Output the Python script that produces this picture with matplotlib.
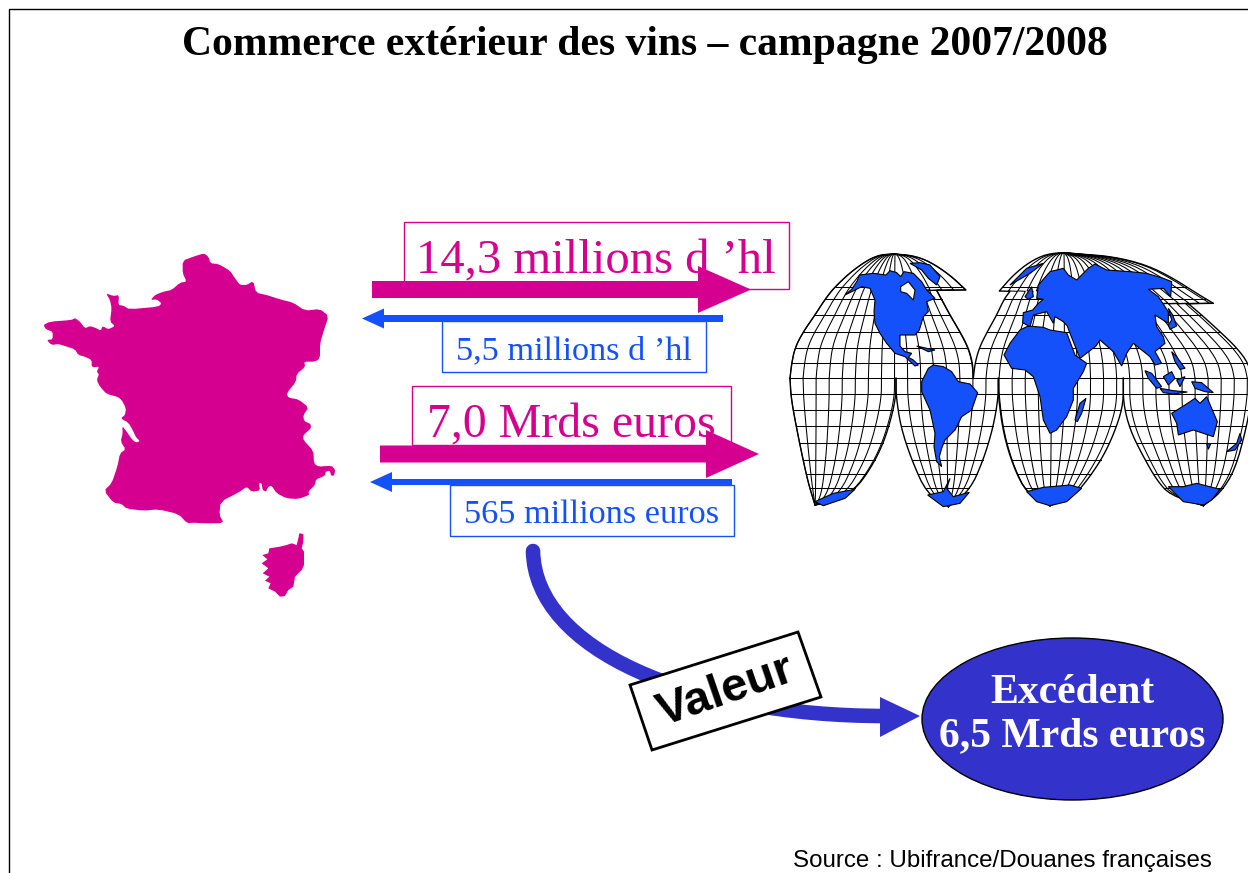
import numpy as np
import matplotlib
matplotlib.use("Agg")
import matplotlib.pyplot as plt
from matplotlib.patches import Polygon, Rectangle, Ellipse, PathPatch
from matplotlib.path import Path

MAGENTA = "#D5008F"
BLUE = "#1551FA"
INDIGO = "#3333CC"

TITLE = "Commerce extérieur des vins – campagne 2007/2008"
SOURCE = "Source : Ubifrance/Douanes françaises"
LABEL_EXPORT_VOL = "14,3 millions d ’hl"
LABEL_IMPORT_VOL = "5,5 millions d ’hl"
LABEL_EXPORT_VAL = "7,0 Mrds euros"
LABEL_IMPORT_VAL = "565 millions euros"
LABEL_BALANCE = "Excédent\n6,5 Mrds euros"
LABEL_VALEUR = "Valeur"

# outlines (zoomed pixels, see to_px)
france = [(458,62),(490,50),(522,40),(535,50),(542,70),(565,72),(600,92),(615,115),(630,135),(650,135),(670,123),
          (678,158),(710,165),(750,178),(790,188),(825,212),(870,207),(896,228),(882,270),(870,310),(870,355),
          (855,365),(822,365),(826,380),(800,402),(798,425),(770,460),(775,473),(805,478),(836,502),(820,525),
          (822,543),(842,552),(843,565),(820,585),(820,600),(850,632),(852,670),(865,680),(905,677),(916,690),
          (912,707),(903,707),(900,692),(887,695),(885,707),(858,718),(855,735),(835,755),(838,765),(805,777),
          (770,775),(740,760),(725,737),(715,740),(708,755),(698,750),(695,730),(687,728),(690,752),(665,755),
          (650,740),(630,755),(572,785),(568,825),(582,850),(520,850),(490,848),(472,850),(445,822),(385,808),
          (340,812),(290,806),(275,792),(250,788),(222,752),(245,730),(262,680),(270,640),(287,628),(272,605),
          (278,580),(277,558),(290,575),(305,597),(318,608),(330,603),(318,592),(308,570),(295,548),(272,535),
          (285,525),(288,505),(275,480),(262,470),(230,462),(210,440),(200,420),(207,403),(200,395),(208,380),
          (185,382),(185,360),(165,350),(145,345),(135,328),(105,318),(85,312),(65,315),(50,300),(68,298),(68,275),
          (48,268),(40,255),(60,245),(125,240),(135,234),(150,245),(165,265),(180,258),(200,265),(212,272),(218,258),
          (235,268),(255,258),(240,245),(245,205),(240,180),(228,160),(250,168),(267,165),(265,195),(280,197),
          (298,208),(385,200),(395,190),(380,178),(362,180),(375,165),(400,155),(425,150),(450,128),(470,125),(458,100)]
corsica = [(808,880),(820,882),(820,905),(815,925),(822,935),(822,975),(815,990),(795,1010),(790,1040),(775,1050),
           (765,1068),(750,1070),(735,1055),(715,1045),(722,1030),(705,1022),(718,1010),(698,1000),(715,985),(695,970),
           (712,958),(697,945),(715,940),(718,925),(750,920),(770,915),(785,910),(800,915),(805,895)]

# lobe edges of the world map as (y, x)
nl1_left = [(42,345),(45,290),(85,225),(140,165),(178,135),(225,105),(275,70),(323,45),(370,35),(415,30)]
nl1_right = [(42,345),(47,400),(65,450),(105,510),(150,558),(151,470),(178,485),(225,510),(275,540),(323,565),(370,578),(415,580)]
nl2_left = [(38,852),(42,800),(65,750),(105,700),(153,658),(154,690),(178,672),(225,650),(275,622),(323,598),(370,585),(415,580)]
nl2_right = [(38,852),(42,900),(50,1000),(75,1100),(115,1180),(160,1250),(190,1300),(191,1225),(225,1265),(275,1320),(323,1370),(370,1405),(415,1415)]
sl1_left = [(415,30),(470,33),(540,45),(640,65),(730,85),(795,105)]
sl1_right = [(415,348),(465,348),(530,335),(610,310),(680,275),(750,225),(785,160),(795,105)]
sl2_left = [(415,348),(465,348),(560,362),(660,395),(760,440),(800,505)]
sl2_right = [(415,655),(470,655),(560,640),(660,610),(750,570),(800,505)]
sl3_left = [(415,655),(470,655),(580,670),(680,700),(760,740),(797,810)]
sl3_right = [(415,1030),(490,1030),(560,1010),(640,975),(710,930),(770,880),(797,810)]
sl4_left = [(415,1030),(490,1030),(570,1050),(650,1090),(720,1130),(765,1170),(797,1270)]
sl4_right = [(415,1415),(470,1415),(560,1400),(690,1365),(760,1320),(797,1270)]

north_rows = [140, 178, 225, 275, 323, 370, 415]
south_rows = [462, 510, 558, 610, 660, 702, 745]

land = [
    [(195,165),(215,148),(232,122),(238,105),(280,100),(318,105),(330,92),(350,98),(362,110),(372,95),(400,100),(425,125),(440,150),(465,175),(440,185),(445,215),(430,230),(418,270),(405,285),(360,285),(360,318),(375,335),(395,340),(385,352),(400,360),(415,375),(405,378),(375,350),(345,340),(320,310),(300,280),(285,250),(282,215),(285,180),(270,145),(245,140),(225,150)],
    [(390,70),(420,68),(450,75),(480,110),(470,135),(445,115),(425,90)],
    [(410,318),(440,325),(465,330),(445,335)],
    [(425,425),(445,385),(460,375),(490,380),(515,395),(535,425),(570,432),(593,458),(575,510),(545,530),(525,570),(495,600),(485,625),(478,650),(485,680),(470,665),(462,620),(465,580),(450,510),(425,455)],
    [(672,345),(690,310),(720,270),(745,258),(790,262),(810,270),(860,278),(885,345),(920,370),(910,395),(880,445),(880,480),(860,530),(830,570),(810,580),(790,540),(780,470),(760,410),(735,390),(695,385)],
    [(885,540),(900,490),(918,475),(905,520),(892,545)],
    [(728,248),(730,218),(758,210),(775,190),(790,178),(770,175),(775,135),(810,95),(850,85),(865,105),(890,120),(925,85),(945,72),(980,90),(1050,95),(1100,100),(1150,115),(1175,125),(1172,170),(1150,145),(1105,148),(1135,170),(1165,215),(1165,250),(1125,225),(1130,260),(1150,290),(1155,310),(1125,335),(1145,370),(1125,375),(1110,350),(1060,310),(1040,340),(1025,378),(1000,335),(960,300),(948,318),(900,355),(868,275),(862,258),(850,245),(825,230),(820,250),(800,215),(760,225),(750,260)],
    [(735,170),(755,140),(760,170),(745,178)],
    [(690,135),(740,85),(790,70),(750,100)],
    [(1165,205),(1178,225),(1190,258),(1170,268),(1165,255),(1175,240)],
    [(1175,335),(1190,350),(1215,385),(1200,388),(1185,365)],
    [(1095,392),(1115,400),(1145,440),(1130,445),(1105,415)],
    [(1140,445),(1180,452),(1222,456),(1180,462),(1150,458)],
    [(1150,410),(1175,395),(1185,415),(1165,435)],
    [(1190,420),(1215,410),(1200,440)],
    [(1235,425),(1265,428),(1300,458),(1275,455),(1245,445)],
    [(1175,520),(1215,495),(1245,475),(1260,490),(1280,470),(1312,545),(1300,590),(1270,580),(1240,570),(1195,585),(1190,550)],
    [(1280,610),(1292,612),(1285,628)],
    [(1340,635),(1370,610),(1380,580),(1385,600),(1365,630)],
    [(105,785),(160,760),(225,748),(195,775),(130,797)],
    [(443,765),(490,755),(510,715),(500,745),(520,770),(568,757),(540,790),(490,800)],
    [(740,755),(790,742),(870,735),(905,745),(860,785),(810,797),(770,785)],
    [(1165,740),(1210,740),(1250,730),(1320,748),(1295,780),(1270,795),(1210,785)],
]
hudson = [(362,140),(385,125),(405,150),(400,180),(380,160),(362,155)]


def to_px(points, x_off, y_off):
    return np.array(points, dtype=float) / 3 + [x_off, y_off]


def chaikin(points, n=2, closed=False):
    # corner cutting to round off the traced outlines
    pts = np.array(points, dtype=float)
    for _ in range(n):
        if closed:
            nxt = np.roll(pts, -1, axis=0)
            pts = np.column_stack([0.8 * pts + 0.2 * nxt, 0.2 * pts + 0.8 * nxt]).reshape(-1, 2)
        else:
            a, b = pts[:-1], pts[1:]
            mid = np.column_stack([0.75 * a + 0.25 * b, 0.25 * a + 0.75 * b]).reshape(-1, 2)
            pts = np.vstack([pts[:1], mid, pts[-1:]])
    return pts


def smooth_edge(edge):
    # the step where a flap meets the lobe has to stay sharp
    e = np.array(edge, dtype=float)
    cut = np.where(np.diff(e[:, 0]) <= 1)[0]
    if len(cut) == 0:
        return chaikin(e)
    i = cut[0] + 1
    return np.vstack([chaikin(e[:i]), chaikin(e[i:])])


def edge_x(edge, y):
    return np.interp(y, edge[:, 0], edge[:, 1])


def draw_lobe(ax, left, right, rows):
    # outline, parallels and meridians of one lobe of the world map
    north = left[0][0] < 415
    pole = left[0][1] if north else left[-1][1]
    x_eq_left = left[-1][1] if north else left[0][1]
    x_eq_right = right[-1][1] if north else right[0][1]
    left = smooth_edge(left)
    right = smooth_edge(right)
    for e in (left, right):
        ax.plot(e[:, 1] / 3 + 780, e[:, 0] / 3 + 240, color="black", lw=1.0, zorder=2)
    for y in rows:
        ax.plot([edge_x(left, y) / 3 + 780, edge_x(right, y) / 3 + 780], [y / 3 + 240] * 2, color="black", lw=0.75, zorder=2)
    ys = np.linspace(left[:, 0].min(), left[:, 0].max(), 300)
    for x0 in np.arange(30, 1420, 39.2):
        if x0 < x_eq_left or x0 > x_eq_right:
            continue
        edge = left if x0 < pole else right
        edge_eq = x_eq_left if x0 < pole else x_eq_right
        t = (x0 - pole) / (edge_eq - pole)
        xs = pole + t * (edge_x(edge, ys) - pole)
        ax.plot(xs / 3 + 780, ys / 3 + 240, color="black", lw=0.75, zorder=2)


def add_arrow(ax, x_tail, x_base, x_tip, y, shaft, head, color):
    pts = [(x_tail, y - shaft / 2), (x_base, y - shaft / 2), (x_base, y - head / 2), (x_tip, y),
           (x_base, y + head / 2), (x_base, y + shaft / 2), (x_tail, y + shaft / 2)]
    ax.add_patch(Polygon(pts, closed=True, fc=color, ec="none", zorder=6))


def add_box(ax, x0, y0, x1, y1, color, z=4):
    ax.add_patch(Rectangle((x0, y0), x1 - x0, y1 - y0, fc="white", ec=color, lw=1.0, zorder=z))


fig = plt.figure(figsize=(12.48, 8.73), dpi=100)
ax = fig.add_axes([0, 0, 1, 1])
ax.set_xlim(0, 1248)
ax.set_ylim(873, 0)
ax.axis("off")

# page frame
ax.plot([8.5, 8.5, 1248], [873, 9, 9], color="black", lw=1.0)

ax.text(645, 55, TITLE, family="Liberation Serif", weight="bold", fontsize=30, ha="center", va="baseline")

ax.add_patch(Polygon(to_px(chaikin(france, 1, closed=True), 30, 240), closed=True, fc=MAGENTA, ec="none"))
ax.add_patch(Polygon(to_px(corsica, 30, 240), closed=True, fc=MAGENTA, ec="none"))

draw_lobe(ax, nl1_left, nl1_right, north_rows)
draw_lobe(ax, nl2_left, nl2_right, north_rows)
draw_lobe(ax, sl1_left, sl1_right, south_rows)
draw_lobe(ax, sl2_left, sl2_right, south_rows)
draw_lobe(ax, sl3_left, sl3_right, south_rows)
draw_lobe(ax, sl4_left, sl4_right, south_rows)
for part in land:
    ax.add_patch(Polygon(to_px(part, 780, 240), closed=True, fc=BLUE, ec="black", lw=0.8, zorder=3))
ax.add_patch(Polygon(to_px(hudson, 780, 240), closed=True, fc="white", ec="black", lw=0.8, zorder=3))

# labels and flow arrows
add_box(ax, 404, 222, 789, 289, MAGENTA)
ax.text(596, 273, LABEL_EXPORT_VOL, family="Liberation Serif", fontsize=35, color=MAGENTA, ha="center", va="baseline", zorder=5)
add_box(ax, 412, 386, 731, 445, MAGENTA)
ax.text(571.5, 437, LABEL_EXPORT_VAL, family="Liberation Serif", fontsize=34.5, color=MAGENTA, ha="center", va="baseline", zorder=5)
add_arrow(ax, 372, 698, 751, 289.5, 17, 47, MAGENTA)
add_arrow(ax, 380, 706, 759, 454, 17, 48, MAGENTA)
add_arrow(ax, 723, 384, 362, 318.5, 7, 20, BLUE)
add_arrow(ax, 732, 392, 370, 482, 6, 20, BLUE)
add_box(ax, 442, 321, 706, 372, BLUE, z=7)
ax.text(574, 359, LABEL_IMPORT_VOL, family="Liberation Serif", fontsize=24.7, color=BLUE, ha="center", va="baseline", zorder=8)
add_box(ax, 450, 485, 734, 536, BLUE, z=7)
ax.text(592, 523, LABEL_IMPORT_VAL, family="Liberation Serif", fontsize=24.7, color=BLUE, ha="center", va="baseline", zorder=8)

# curved arrow towards the balance
curve = Path([(533, 551), (535, 650), (690, 716), (885, 716)], [Path.MOVETO, Path.CURVE4, Path.CURVE4, Path.CURVE4])
ax.add_patch(PathPatch(curve, fc="none", ec=INDIGO, lw=10.5, capstyle="round", zorder=3))
ax.add_patch(Polygon([(880, 697), (920, 716), (880, 737)], closed=True, fc=INDIGO, ec="none", zorder=3))

ax.add_patch(Polygon([(630, 685), (798, 632), (821, 697), (652, 750)], closed=True, fc="white", ec="black", lw=2.0, zorder=4))
ax.text(726, 692, LABEL_VALEUR, family="Liberation Sans", weight="bold", fontsize=34, rotation=19, rotation_mode="anchor",
        ha="center", va="center", zorder=5)

ax.add_patch(Ellipse((1072.5, 719), 301, 162, fc=INDIGO, ec="black", lw=1.0, zorder=4))
ax.text(1072, 715, LABEL_BALANCE, family="Liberation Serif", weight="bold", fontsize=30, color="white", ha="center", va="center",
        linespacing=1.18, zorder=5)

ax.text(1212, 867, SOURCE, family="Liberation Sans", fontsize=17.4, ha="right", va="baseline")

fig.savefig("out.png", dpi=100)
